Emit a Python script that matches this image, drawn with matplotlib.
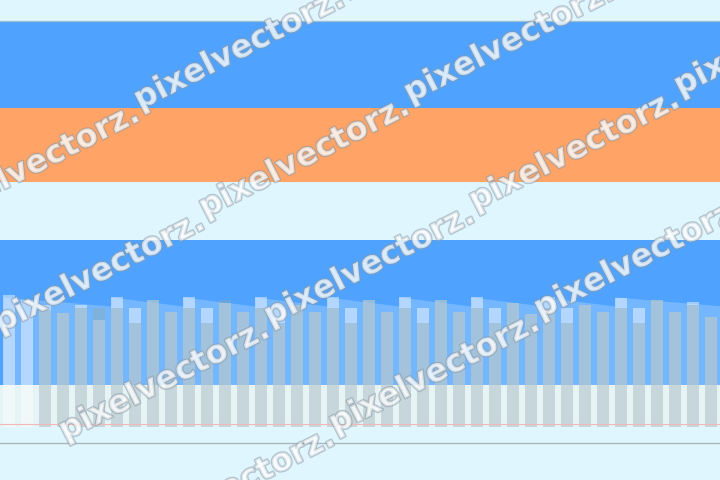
import matplotlib
matplotlib.use("Agg")
import matplotlib.pyplot as plt
import matplotlib.patheffects as pe
import numpy as np

# ---- data (values measured from the baseline, 1 unit = 1 px) ----
white_tops_px = [295, 300, 305, 313, 305, 320, 297, 308, 300, 312,
                 297, 308, 303, 312, 297, 308, 305, 312, 297, 308,
                 300, 312, 297, 308, 300, 312, 297, 308, 303, 314,
                 297, 308, 305, 312, 298, 308, 300, 312, 302, 317]
gray_tops_px = [427, 427, 310, 313, 308, 308, 308, 323, 300, 312,
                308, 323, 300, 312, 308, 323, 305, 312, 308, 323,
                300, 312, 308, 323, 300, 312, 308, 323, 303, 314,
                308, 323, 305, 312, 308, 323, 300, 312, 305, 317]
baseline_px = 427
white_vals = [baseline_px - t for t in white_tops_px]
gray_vals = [baseline_px - t for t in gray_tops_px]
ribbon_starts = [0, 6, 10, 14, 18, 22, 26, 30, 34]   # tall-bar indices
ribbon_top = [130, 121]  # start / end height of each sloped ribbon
watermark = "pixelvectorz."
# lattice cells (row, column) that carry a watermark label
wm_cells = [(-1, 1), (-1, 2), (0, 0), (0, 1), (0, 2),
            (1, -1), (1, 0), (1, 1), (2, -1), (2, 0), (2, 1),
            (3, -1), (3, 0), (4, -1)]

BG = "#E0F6FF"
BLUE = "#4FA3FF"
ORANGE = "#FFA466"
PALE = "#E7F4F6"

fig = plt.figure(figsize=(7.2, 4.8), dpi=100)
fig.patch.set_facecolor(BG)
ax = fig.add_axes([0, 0, 1, 1])
ax.set_facecolor(BG)
n = len(white_vals)
ax.set_xlim(-0.5, n - 0.5)
ax.set_ylim(-53, 427)
ax.axis("off")

# bands
ax.axhspan(319, 406, color=BLUE, lw=0, zorder=0)
ax.axhline(406.3, color="#9DBCCF", lw=0.9, zorder=0.5)
ax.axhspan(245, 319, color=ORANGE, lw=0, zorder=0)
ax.axhspan(42, 187, color=BLUE, lw=0, zorder=0)
ax.axhspan(0, 42, color=PALE, lw=0, zorder=0)

# sloped lighter ribbons
for i, s in enumerate(ribbon_starts):
    e = ribbon_starts[i + 1] if i + 1 < len(ribbon_starts) else n
    xs = [s - 0.33, e - 0.34]
    ax.fill_between(xs, [42, 42], ribbon_top, color="white", alpha=0.22,
                    lw=0, zorder=1)

x = np.arange(n)
ax.bar(x, white_vals, width=0.68, color="white", alpha=0.45, lw=0, zorder=2)
ax.bar(x, gray_vals, width=0.62, color="#8FA9AE", alpha=0.42, lw=0, zorder=3)

ax.axhline(3, color="#F2B8B8", lw=0.8, zorder=4)
ax.axhline(-16, color="#A9B6BC", lw=1.0, zorder=4)

# watermark overlay (staggered lattice of tilted labels)
wax = fig.add_axes([0, 0, 1, 1], facecolor="none")
wax.set_xlim(0, 720)
wax.set_ylim(480, 0)
wax.axis("off")
ang = 27
for i, j in wm_cells:
    x0 = 140 + 270 * j + 65 * i
    y0 = 110 + 108 * i - 7 * j
    wax.text(x0, y0, watermark, rotation=ang, rotation_mode="anchor",
             ha="left", va="baseline", fontsize=23, fontweight="bold",
             family="DejaVu Sans", color="white", alpha=0.55,
             path_effects=[pe.withStroke(linewidth=1.8,
                                         foreground="#8A9AA6",
                                         alpha=0.55)],
             zorder=10, clip_on=True)

fig.savefig("out.png", dpi=100, facecolor=BG)
